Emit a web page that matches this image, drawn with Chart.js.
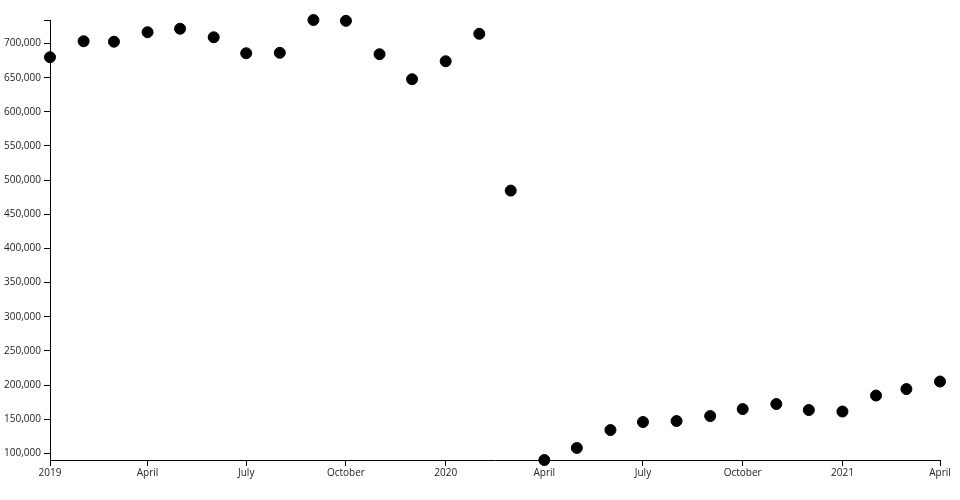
<!DOCTYPE html>
<html lang="en">
<head>
  <meta charset="UTF-8">
  <title>scatter</title>
  <script src="https://cdn.jsdelivr.net/npm/chart.js@4"></script>
  <style>
    html, body { margin: 0; padding: 0; background: #fff; }
    .chart-box { position: relative; width: 960px; height: 500px; }
  </style>
</head>
<body>
  <div class="chart-box">
    <canvas id="chart_scatter"></canvas>
  </div>
  <script>
    // monthly values, Jan 2019 .. Apr 2021
    var months = ['2019-01','2019-02','2019-03','2019-04','2019-05','2019-06','2019-07','2019-08','2019-09','2019-10','2019-11','2019-12',
                  '2020-01','2020-02','2020-03','2020-04','2020-05','2020-06','2020-07','2020-08','2020-09','2020-10','2020-11','2020-12',
                  '2021-01','2021-02','2021-03','2021-04'];
    var values = [680000, 703400, 702700, 716600, 721700, 709200, 685800, 686500, 734500, 733300, 684400, 647800,
                  674100, 714300, 484700, 90200, 107800, 134100, 145800, 147300, 154600, 164800, 172200, 163400,
                  161200, 184600, 194100, 205100];
    var xTickDates  = ['2019-01','2019-04','2019-07','2019-10','2020-01','2020-04','2020-07','2020-10','2021-01','2021-04'];
    var xTickLabels = ['2019','April','July','October','2020','April','July','October','2021','April'];
    var yTicks = [100000,150000,200000,250000,300000,350000,400000,450000,500000,550000,600000,650000,700000];

    function toTime(s) {
      var p = s.split('-');
      return Date.UTC(+p[0], +p[1] - 1, 1);
    }

    var points = months.map(function(m, i) { return { x: toTime(m), y: values[i] }; });
    var xTickVals = xTickDates.map(toTime);
    var yMin = Math.min.apply(null, values);
    var yMax = Math.max.apply(null, values);

    var ctx = document.getElementById('chart_scatter').getContext('2d');
    var chart = new Chart(ctx, {
      type: 'scatter',
      data: {
        datasets: [{
          data: points,
          backgroundColor: '#000',
          borderColor: '#000',
          pointRadius: 5.5,
          pointHoverRadius: 5.5,
          clip: false
        }]
      },
      options: {
        responsive: true,
        maintainAspectRatio: false,
        animation: false,
        layout: { padding: { left: 0, right: 20, top: 20, bottom: 0 } },
        plugins: { legend: { display: false }, tooltip: { enabled: false } },
        scales: {
          x: {
            type: 'linear',
            min: xTickVals[0],
            max: xTickVals[xTickVals.length - 1],
            afterBuildTicks: function(scale) {
              scale.ticks = xTickVals.map(function(v) { return { value: v }; });
            },
            afterFit: function(scale) { scale.height = 40; },
            border: { color: '#000', width: 1 },
            grid: { drawOnChartArea: false, drawTicks: true, tickLength: 6, tickColor: '#000' },
            ticks: {
              padding: 1,
              maxRotation: 0,
              autoSkip: false,
              color: '#222',
              font: { family: 'Open Sans', size: 10 },
              callback: function(v) {
                var i = xTickVals.indexOf(v);
                return i >= 0 ? xTickLabels[i] : '';
              }
            }
          },
          y: {
            min: yMin,
            max: yMax,
            afterBuildTicks: function(scale) {
              // outer tick at the top end of the axis, no label
              scale.ticks = yTicks.concat([yMax]).map(function(v) { return { value: v }; });
            },
            afterFit: function(scale) { scale.width = 50; },
            border: { color: '#000', width: 1 },
            grid: { drawOnChartArea: false, drawTicks: true, tickLength: 6, tickColor: '#000' },
            ticks: {
              padding: 3,
              color: '#222',
              font: { family: 'Open Sans', size: 10 },
              callback: function(v) { return v === yMax ? '' : v.toLocaleString('en-US'); }
            }
          }
        }
      }
    });
  </script>
</body>
</html>
